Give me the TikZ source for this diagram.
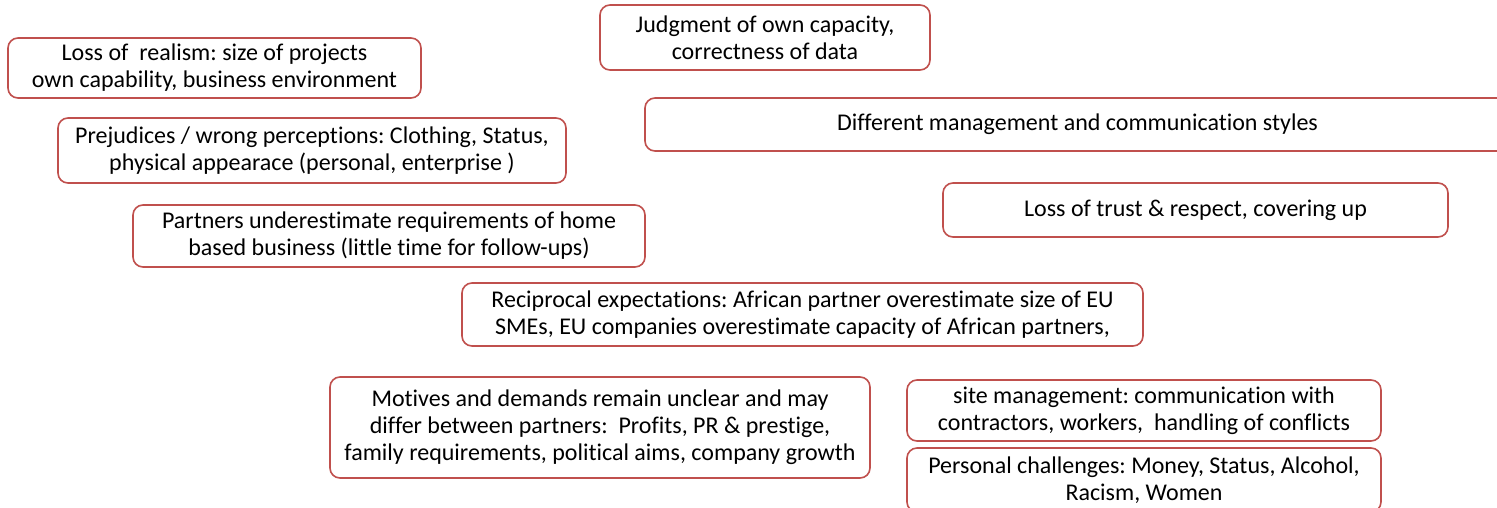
\documentclass[tikz,border=0pt]{standalone}
\usepackage{fontspec}
\setmainfont{Carlito}[Ligatures={NoCommon}]
\definecolor{boxred}{RGB}{192,80,77}
\begin{document}
\frenchspacing
\begin{tikzpicture}[x=1pt,y=-1pt,
  issue/.style={draw=boxred, line width=1.6pt, rounded corners=10pt, fill=white,
    align=center, inner sep=0pt, font=\fontsize{24}{27}\selectfont, text=black}]
\useasboundingbox (0,0) rectangle (1497,507);
\clip (0,0) rectangle (1497,507);
% each box: centre at midpoint of its corners, sized to its corners
\newcommand\issuebox[6]{%
  \node[issue, minimum width={#4-#2}, minimum height={#5-#3}] (#1)
    at ({(#2+#4)/2},{(#3+#5)/2}) {#6};}
\issuebox{realism}{8}{38}{421}{98}{Loss of\ \ realism: size of projects\\own capability, business environment}
\issuebox{judgment}{600}{5}{930}{70}{Judgment of own capacity,\\correctness of data}
\issuebox{prejudice}{58}{118}{566}{183}{Prejudices / wrong perceptions: Clothing, Status,\\physical appearace (personal, enterprise )}
\issuebox{styles}{645}{98}{1510}{151}{Different management and communication styles}
\issuebox{trust}{943}{183}{1448}{237}{Loss of trust \& respect, covering up}
\issuebox{partners}{133}{205}{645}{267}{Partners underestimate requirements of home\\based business (little time for follow-ups)}
\issuebox{reciprocal}{462}{283}{1143}{346}{Reciprocal expectations: African partner overestimate size of EU\\SMEs, EU companies overestimate capacity of African partners,}
\issuebox{motives}{330}{377}{870}{478}{Motives and demands remain unclear and may\\differ between partners:\ \ Profits, PR \& prestige,\\family requirements, political aims, company growth}
\issuebox{site}{907}{380}{1381}{441}{site management: communication with\\contractors, workers,\ \ handling of conflicts}
\issuebox{personal}{907}{448}{1381}{512}{Personal challenges: Money, Status, Alcohol,\\Racism, Women}
\end{tikzpicture}
\end{document}
